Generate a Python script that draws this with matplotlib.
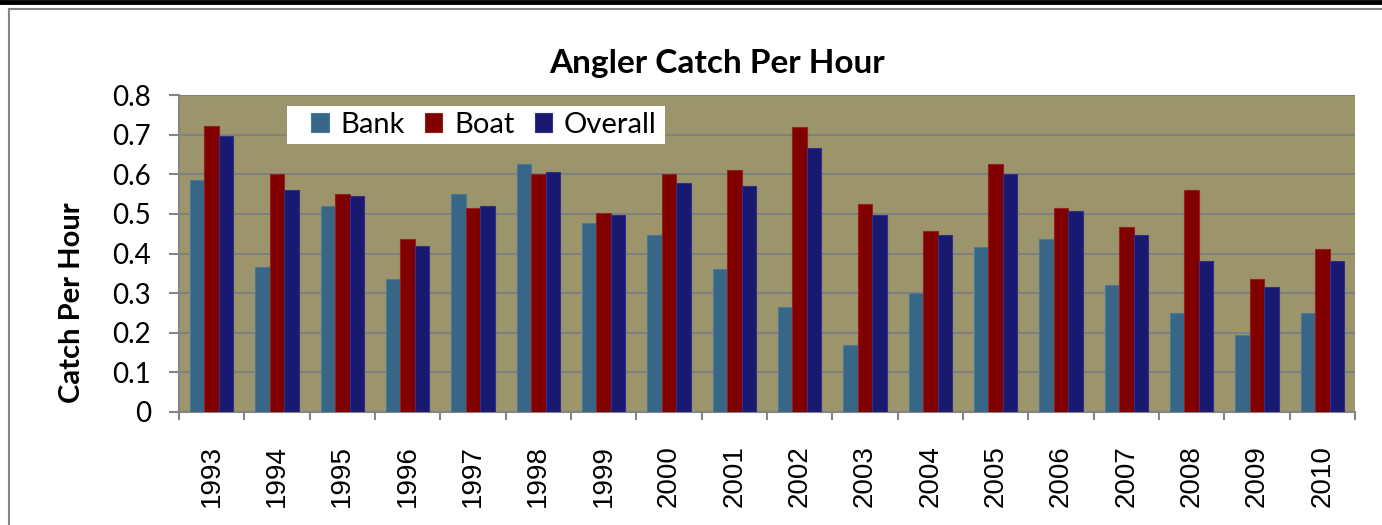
import matplotlib.pyplot as plt
import numpy as np
from matplotlib.lines import Line2D
from matplotlib.patches import Rectangle

years = [str(y) for y in range(1993, 2011)]
bank = [0.586, 0.365, 0.521, 0.336, 0.550, 0.626, 0.476, 0.446, 0.361,
        0.265, 0.169, 0.300, 0.416, 0.436, 0.320, 0.250, 0.195, 0.250]
boat = [0.722, 0.601, 0.551, 0.436, 0.516, 0.601, 0.501, 0.601, 0.611,
        0.718, 0.526, 0.456, 0.626, 0.515, 0.466, 0.561, 0.336, 0.411]
overall = [0.696, 0.561, 0.546, 0.420, 0.521, 0.606, 0.496, 0.577, 0.571,
           0.667, 0.496, 0.446, 0.601, 0.506, 0.446, 0.380, 0.316, 0.380]
series = ["Bank", "Boat", "Overall"]
colors = ["#376687", "#800000", "#191970"]
edges = ["#4a7a9a", "#9a2020", "#30308a"]
yticks = [0, 0.1, 0.2, 0.3, 0.4, 0.5, 0.6, 0.7, 0.8]

W, H = 1382, 525
fig = plt.figure(figsize=(W / 100, H / 100), dpi=100)
fig.patch.set_facecolor("white")

# outer decorations: black rule on top, gray chart border
fig.add_artist(Line2D([0, 1], [1 - 1.5 / H, 1 - 1.5 / H], color="black", lw=3.5))
fig.add_artist(Line2D([9 / W, 1], [1 - 8.5 / H, 1 - 8.5 / H], color="#858585", lw=1.5))
fig.add_artist(Line2D([9 / W, 9 / W], [0, 1 - 8.5 / H], color="#858585", lw=1.5))

ax = fig.add_axes([179 / W, 1 - 412 / H, (1355 - 179) / W, (412 - 95) / H])
ax.set_facecolor("#9c956c")

x = np.arange(len(years))
bw = 0.22
for i, (vals, c, ec) in enumerate(zip([bank, boat, overall], colors, edges)):
    ax.bar(x + (i - 1) * bw, vals, width=bw, color=c, edgecolor=ec,
           linewidth=0.8, zorder=3, label=series[i])

ax.set_xlim(-0.5, len(years) - 0.5)
ax.set_ylim(0, 0.8)
ax.set_yticks(yticks)
ax.set_yticklabels([f"{v:g}" for v in yticks], fontsize=20, family="Lato")
ax.yaxis.grid(True, color="#808080", linewidth=1.5, zorder=1)
ax.set_axisbelow(True)

ax.set_xticks(x)
ax.set_xticklabels(years, rotation=90, fontsize=20, family="Liberation Sans")
ax.tick_params(axis="x", which="major", length=0, pad=24)
ax.set_xticks(np.arange(-0.5, len(years)), minor=True)
ax.tick_params(axis="x", which="minor", length=6, width=1.5, color="#858585")
ax.tick_params(axis="y", length=7, width=1.5, color="#858585", pad=13)

for s in ["top", "right"]:
    ax.spines[s].set_visible(False)
for s in ["left", "bottom"]:
    ax.spines[s].set_color("#858585")
    ax.spines[s].set_linewidth(1.5)

fig.text(717 / W, 1 - 63 / H, "Angler Catch Per Hour", ha="center", va="center",
         fontsize=24, fontweight="bold", family="Lato")
fig.text(72 / W, 1 - 303 / H, "Catch Per Hour", ha="center", va="center",
         rotation=90, fontsize=21, fontweight="bold", family="Lato")

# white legend box (Excel style, wider than its contents)
ax.add_patch(Rectangle((287 / W, 1 - 144 / H), (665 - 287) / W, 38 / H,
                       transform=fig.transFigure, facecolor="white",
                       edgecolor="none", zorder=4, clip_on=False))
leg = ax.legend(loc="center left", bbox_to_anchor=(311 / W, 1 - 125 / H),
                bbox_transform=fig.transFigure, ncol=3, frameon=False,
                prop={"family": "Lato", "size": 21}, handlelength=0.6,
                handleheight=0.6, handletextpad=0.4, columnspacing=0.7,
                borderpad=0, borderaxespad=0)
leg.set_zorder(5)

fig.savefig("out.png", dpi=100)
